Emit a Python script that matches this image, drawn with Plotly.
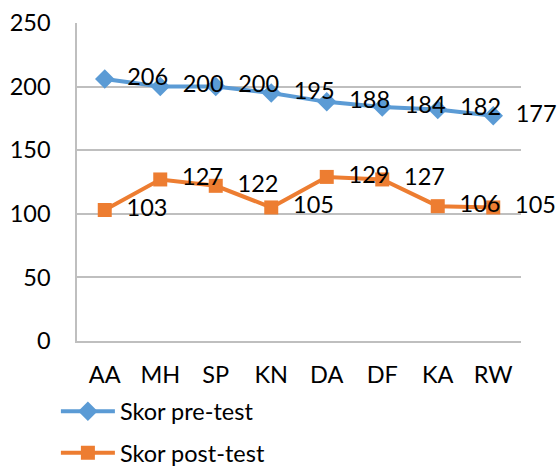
import plotly.graph_objects as go

categories = ["AA", "MH", "SP", "KN", "DA", "DF", "KA", "RW"]
pre_test = [206, 200, 200, 195, 188, 184, 182, 177]
post_test = [103, 127, 122, 105, 129, 127, 106, 105]
y_ticks = [0, 50, 100, 150, 200, 250]

FONT = "Lato"
FS = 23.5
PAD = "\u00a0\u00a0"

fig = go.Figure()
fig.add_trace(go.Scatter(
    x=categories, y=pre_test, name="Skor pre-test",
    mode="lines+markers+text", text=[PAD + str(v) for v in pre_test],
    textposition="middle right", cliponaxis=False,
    line=dict(color="#5B9BD5", width=4),
    marker=dict(symbol="diamond", size=15, color="#5B9BD5"),
    textfont=dict(family=FONT, size=FS, color="#000000"),
    legendgroup="a",
))
fig.add_trace(go.Scatter(
    x=categories, y=post_test, name="Skor post-test",
    mode="lines+markers+text", text=[PAD + str(v) for v in post_test],
    textposition="middle right", cliponaxis=False,
    line=dict(color="#ED7D31", width=4),
    marker=dict(symbol="square", size=14, color="#ED7D31"),
    textfont=dict(family=FONT, size=FS, color="#000000"),
    legendgroup="b",
))

fig.update_layout(
    width=559, height=468,
    margin=dict(l=77, r=38, t=23, b=127, autoexpand=False),
    paper_bgcolor="white", plot_bgcolor="white",
    font=dict(family=FONT, size=FS, color="#000000"),
    showlegend=True,
    legend=dict(
        orientation="v", xref="container", yref="container",
        x=0.10, xanchor="left", y=0.168, yanchor="top",
        font=dict(family=FONT, size=FS, color="#000000"),
        tracegroupgap=8, itemwidth=54, bgcolor="rgba(0,0,0,0)",
    ),
    xaxis=dict(
        type="category", range=[-0.5, 7.5], showgrid=False,
        showline=True, linecolor="#BFBFBF", linewidth=1.5,
        ticks="", ticklabelstandoff=12, fixedrange=True, automargin=False,
    ),
    yaxis=dict(
        range=[0, 250], tickvals=y_ticks, showgrid=True,
        gridcolor="#BFBFBF", gridwidth=1.5, zeroline=False,
        showline=True, linecolor="#BFBFBF", linewidth=1.5,
        ticks="", ticklabelstandoff=20, automargin=False, fixedrange=True,
    ),
)

fig.write_html(
    "out.html",
    config={"displayModeBar": False},
    post_script="document.body.style.margin='0';document.body.style.overflow='hidden';",
)
